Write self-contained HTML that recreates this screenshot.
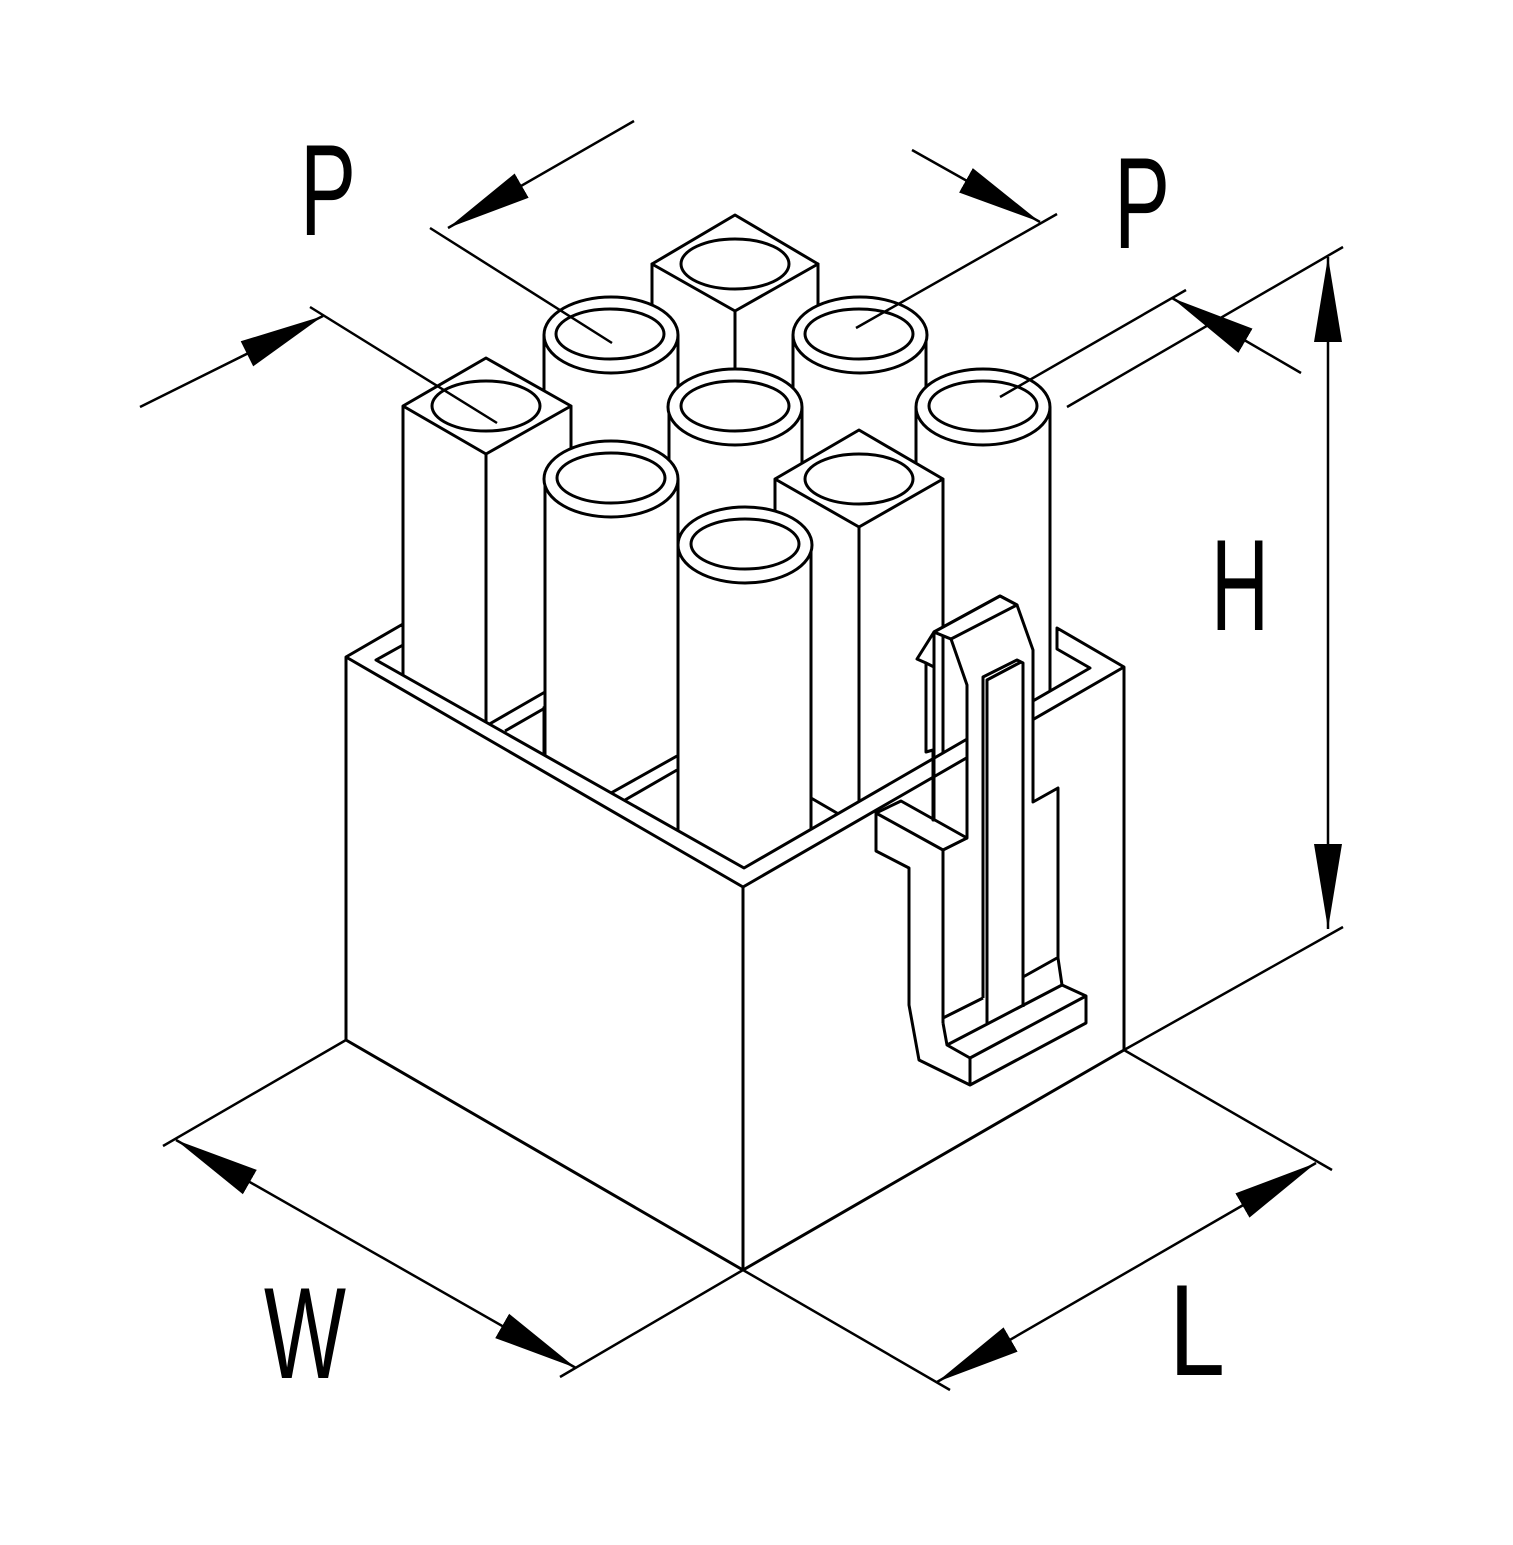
<!DOCTYPE html>
<html><head><meta charset="utf-8"><style>html,body{margin:0;padding:0;background:#fff}svg{display:block}</style></head>
<body>
<svg width="1513" height="1545" viewBox="0 0 1513 1545" xmlns="http://www.w3.org/2000/svg">
<defs>
<marker id="ar" viewBox="0 -15 85 30" refX="85" refY="0" markerWidth="85" markerHeight="30" markerUnits="userSpaceOnUse" orient="auto-start-reverse">
<path d="M0,-14 L85,0 L0,14 z" fill="#000"/>
</marker>
<clipPath id="top"><polygon points="0,0 1513,0 1513,649 1057,649 1090,668 744,868 376,660 403,645 0,645"/></clipPath>
</defs>
<g fill="#fff" stroke="#000" stroke-width="3" stroke-linejoin="round">
<g clip-path="url(#top)">
<!-- back square pin -->
<path d="M652,264 L652,700 L818,700 L818,264 z"/>
<path d="M735,215 L818,264 L735,311 L652,264 z"/>
<line x1="735" y1="311" x2="735" y2="700"/>
<ellipse cx="735" cy="264" rx="54" ry="25"/>
<!-- back-left cyl -->
<rect x="544" y="335" width="134" height="420" stroke="none"/>
<line x1="544" y1="335" x2="544" y2="760"/><line x1="678" y1="335" x2="678" y2="760"/>
<ellipse cx="611" cy="335" rx="67" ry="38"/><ellipse cx="610" cy="334" rx="54" ry="25"/>
<!-- back-right cyl -->
<rect x="793" y="335" width="133" height="420" stroke="none"/>
<line x1="793" y1="335" x2="793" y2="760"/><line x1="926" y1="335" x2="926" y2="760"/>
<ellipse cx="860" cy="335" rx="67" ry="38"/><ellipse cx="859" cy="334" rx="54" ry="25"/>
<!-- left square pin -->
<path d="M403,406 L403,690 L486,740 L571,690 L571,406 z" stroke="none"/>
<line x1="403" y1="406" x2="403" y2="690"/><line x1="486" y1="454" x2="486" y2="726"/><line x1="571" y1="406" x2="571" y2="700"/>
<line x1="486" y1="726" x2="545" y2="692"/>
<path d="M486,358 L571,406 L486,454 L403,406 z"/>
<ellipse cx="486" cy="406" rx="54" ry="25"/>
<!-- center cyl -->
<rect x="669" y="407" width="133" height="420" stroke="none"/>
<line x1="669" y1="407" x2="669" y2="830"/><line x1="802" y1="407" x2="802" y2="830"/>
<ellipse cx="735" cy="407" rx="67" ry="38"/><ellipse cx="735" cy="406" rx="54" ry="25"/>
<!-- right cyl -->
<rect x="916" y="407" width="134" height="420" stroke="none"/>
<line x1="916" y1="407" x2="916" y2="830"/><line x1="1050" y1="407" x2="1050" y2="830"/>
<ellipse cx="983" cy="407" rx="67" ry="38"/><ellipse cx="983" cy="406" rx="54" ry="25"/>
<!-- front-left cyl -->
<rect x="545" y="479" width="133" height="420" stroke="none"/>
<line x1="545" y1="479" x2="545" y2="900"/><line x1="678" y1="479" x2="678" y2="900"/>
<ellipse cx="611" cy="479" rx="67" ry="38"/><ellipse cx="611" cy="478" rx="54" ry="25"/>
<!-- front-right square pin -->
<path d="M775,479 L775,760 L859,803 L943,758 L943,479 z" stroke="none"/>
<line x1="775" y1="479" x2="775" y2="760"/><line x1="859" y1="527" x2="859" y2="803"/><line x1="943" y1="479" x2="943" y2="758"/>
<line x1="859" y1="803" x2="943" y2="758"/>
<path d="M859,430 L943,479 L859,527 L775,479 z"/>
<ellipse cx="859" cy="479" rx="54" ry="25"/>
<!-- front cyl -->
<rect x="678" y="545" width="133" height="420" stroke="none"/>
<line x1="678" y1="545" x2="678" y2="960"/><line x1="811" y1="545" x2="811" y2="960"/>
<ellipse cx="745" cy="545" rx="67" ry="38"/><ellipse cx="745" cy="544" rx="54" ry="25"/>
</g>
<!-- ribs -->
<polyline points="505,731 545,708" fill="none"/>
<polyline points="611,793 677,756" fill="none"/>
<polyline points="625,800 677,770" fill="none"/>
<polyline points="811,798 842,816" fill="none"/>
<!-- housing rim -->
<path d="M346,657 L403,624 L403,645 L376,660 L744,868 L1090,668 L1057,649 L1057,628 L1124,667 L1124,1050 L743,1270 L346,1040 z"/>
<polyline points="346,657 743,887 1124,667" fill="none"/>
<line x1="743" y1="887" x2="743" y2="1270"/>
<!-- latch -->
<path d="M1000,596 L1017,605 L1033,650 L1033,802 L1058,788 L1058,958 L1062,985 L1086,996 L1086,1023 L970,1085 L919,1060 L909,1005 L909,868 L876,851 L876,813 L901,801 L967,838 L967,685 L951,639 L934,632 L917,659 L926,663 L926,752 L933,750 L933,820 L934,820 L934,632 z"/>
<path d="M934,632 L1000,596 L1017,605 L951,639 z"/>
<path d="M926,663 L934,667 L934,820" fill="none"/>
<path d="M876,813 L943,850 L967,838" fill="none"/>
<line x1="943" y1="850" x2="943" y2="1023"/>
<path d="M943,1023 L947,1045 L970,1058 L1086,996" fill="none"/>
<line x1="970" y1="1058" x2="970" y2="1085"/>
<line x1="947" y1="1045" x2="1062" y2="985"/>
<line x1="943" y1="1018" x2="983" y2="998"/>
<line x1="1023" y1="977" x2="1057" y2="958"/>
<path d="M983,998 L983,677 L1017,660 L1021,662 L1023,663 L1023,1007" fill="none"/>
<path d="M987,1023 L987,680 L1021,662" fill="none"/>
</g>
<!-- dimension lines -->
<g stroke="#000" stroke-width="2.5" fill="none">
<line x1="346" y1="1040" x2="163" y2="1146"/>
<line x1="743" y1="1270" x2="560" y2="1377"/>
<line x1="176" y1="1140" x2="576" y2="1368" marker-start="url(#ar)" marker-end="url(#ar)"/>
<line x1="743" y1="1270" x2="950" y2="1390"/>
<line x1="1124" y1="1050" x2="1332" y2="1170"/>
<line x1="937" y1="1382" x2="1316" y2="1163" marker-start="url(#ar)" marker-end="url(#ar)"/>
<line x1="1067" y1="407" x2="1343" y2="247"/>
<line x1="1124" y1="1050" x2="1343" y2="927"/>
<line x1="1328" y1="257" x2="1328" y2="929" marker-start="url(#ar)" marker-end="url(#ar)"/>
<line x1="1000" y1="397" x2="1186" y2="290"/>
<line x1="1301" y1="373" x2="1172" y2="298" marker-end="url(#ar)"/>
<line x1="140" y1="407" x2="323" y2="316" marker-end="url(#ar)"/>
<line x1="310" y1="307" x2="497" y2="423"/>
<line x1="634" y1="121" x2="448" y2="228" marker-end="url(#ar)"/>
<line x1="430" y1="228" x2="612" y2="343"/>
<line x1="912" y1="150" x2="1040" y2="222" marker-end="url(#ar)"/>
<line x1="1057" y1="214" x2="856" y2="328"/>
</g>
<g font-family="Liberation Sans, sans-serif" font-size="130" fill="#000">
<text x="300" y="235" textLength="56" lengthAdjust="spacingAndGlyphs">P</text>
<text x="1114" y="248" textLength="56" lengthAdjust="spacingAndGlyphs">P</text>
<text x="1211" y="630" textLength="58" lengthAdjust="spacingAndGlyphs">H</text>
<text x="264" y="1378" textLength="82" lengthAdjust="spacingAndGlyphs">W</text>
<text x="1169" y="1375" textLength="56" lengthAdjust="spacingAndGlyphs">L</text>
</g>
</svg>
</body></html>
